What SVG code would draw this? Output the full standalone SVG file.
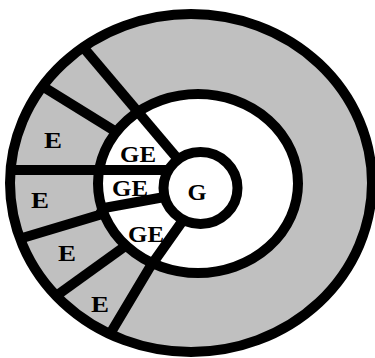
<svg xmlns="http://www.w3.org/2000/svg" width="375" height="358" viewBox="0 0 375 358">
  <style>
    .ring { stroke: #000; stroke-width: 10; }
    .div { fill: none; stroke: #000; stroke-width: 10; stroke-linejoin: round; }
    .lbl { font-family: "Liberation Serif", "Times New Roman", serif; font-weight: bold; font-size: 23px; fill: #000; text-anchor: middle; }
  </style>
  <rect x="0" y="0" width="375" height="358" fill="#fff"/>
  <g id="outer-ring">
    <ellipse cx="191" cy="183" rx="181" ry="169" fill="#c0c0c0"/>
  </g>
  <g id="middle-ring">
    <ellipse cx="198" cy="183.5" rx="100" ry="89.5" fill="#fff"/>
  </g>
  <g id="connectors">
    <line class="div" x1="83" y1="47" x2="182" y2="164"/>
    <line class="div" x1="42" y1="86" x2="118" y2="133"/>
    <line class="div" x1="8" y1="170" x2="170" y2="170"/>
    <polyline class="div" points="19,239 99,215 104,208 170,196"/>
    <line class="div" x1="56" y1="296" x2="124" y2="247"/>
    <polyline class="div" points="110,334 150,267 186,216"/>
  </g>
  <g id="outlines">
    <ellipse class="ring" cx="191" cy="183" rx="181" ry="169" fill="none"/>
    <ellipse class="ring" cx="198" cy="183.5" rx="100" ry="89.5" fill="none" stroke-width="9.5"/>
  </g>
  <g id="node-G">
    <ellipse class="ring" cx="200.5" cy="188" rx="37" ry="36" fill="#fff" stroke-width="9"/>
    <text class="lbl" x="197" y="200" textLength="19" lengthAdjust="spacingAndGlyphs">G</text>
  </g>
  <g id="node-GE1"><text class="lbl" x="138" y="162" textLength="36" lengthAdjust="spacingAndGlyphs">GE</text></g>
  <g id="node-GE2"><text class="lbl" x="130" y="196" textLength="36" lengthAdjust="spacingAndGlyphs">GE</text></g>
  <g id="node-GE3"><text class="lbl" x="146" y="242" textLength="36" lengthAdjust="spacingAndGlyphs">GE</text></g>
  <g id="node-E1"><text class="lbl" x="53" y="148" textLength="18" lengthAdjust="spacingAndGlyphs">E</text></g>
  <g id="node-E2"><text class="lbl" x="40" y="208" textLength="18" lengthAdjust="spacingAndGlyphs">E</text></g>
  <g id="node-E3"><text class="lbl" x="67" y="261" textLength="18" lengthAdjust="spacingAndGlyphs">E</text></g>
  <g id="node-E4"><text class="lbl" x="100" y="312" textLength="18" lengthAdjust="spacingAndGlyphs">E</text></g>
</svg>
